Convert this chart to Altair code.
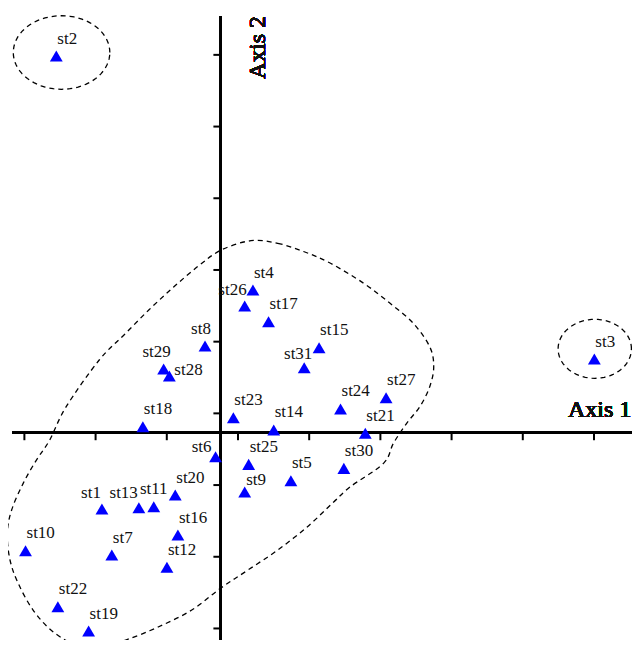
import altair as alt
import numpy as np
import pandas as pd

# ---- data (ordination scores, tick spacing = 1 unit) ----
stations = ["st1", "st2", "st3", "st4", "st5", "st6", "st7", "st8", "st9", "st10",
            "st11", "st12", "st13", "st14", "st15", "st16", "st17", "st18", "st19", "st20",
            "st21", "st22", "st23", "st24", "st25", "st26", "st27", "st28", "st29", "st30", "st31"]
axis1 = [-1.671, -2.312, 5.245, 0.450, 0.983, -0.075, -1.532, -0.223, 0.334, -2.744,
         -0.943, -0.758, -1.152, 0.742, 1.379, -0.604, 0.669, -1.096, -1.858, -0.641,
         2.028, -2.290, 0.175, 1.680, 0.390, 0.334, 2.320, -0.724, -0.804, 1.727, 1.170]
axis2 = [-1.064, 5.254, 1.028, 1.990, -0.669, -0.335, -1.706, 1.209, -0.827, -1.646,
         -1.032, -1.877, -1.046, 0.038, 1.185, -1.427, 1.548, 0.084, -2.766, -0.869,
         -0.008, -2.427, 0.209, 0.331, -0.441, 1.767, 0.488, 0.791, 0.888, -0.497, 0.907]

x_ticks = [-2.76, -1.76, -0.76, 0.24, 1.24, 2.24, 3.24, 4.24, 5.24]
y_ticks = [-2.73, -1.73, -0.73, 0.27, 1.27, 2.27, 3.27, 4.27, 5.27]

# big group outline (control points)
blob_x = [0.422, 0.798, 1.170, 1.540, 2.006, 2.376, 2.702, 2.933, 2.989, 2.933,
          2.794, 2.609, 2.423, 2.284, 1.819, 1.588, 1.216, 0.798, 0.380, 0.000,
          -0.409, -0.873, -1.337, -1.709, -1.987, -2.359, -2.638, -2.847, -2.962, -3.000,
          -2.939, -2.777, -2.591, -2.405, -2.173, -1.709, -1.361, -1.013, -0.664, -0.316, 0.004]
blob_y = [2.678, 2.642, 2.524, 2.363, 2.084, 1.805, 1.526, 1.199, 0.921, 0.642,
          0.363, 0.131, -0.148, -0.427, -0.753, -0.962, -1.311, -1.636, -1.915, -2.166,
          -2.473, -2.706, -2.891, -2.985, -2.985, -2.775, -2.473, -2.100, -1.775, -1.403,
          -1.078, -0.706, -0.381, -0.102, 0.363, 1.014, 1.363, 1.711, 2.032, 2.325, 2.548]

# small ellipses: centre x, centre y, radius x, radius y
ellipse_cx = [-2.238, 5.251]
ellipse_cy = [5.303, 1.170]
ellipse_rx = [0.678, 0.515]
ellipse_ry = [0.513, 0.411]

PLOT_W = 620
PLOT_H = 624
X_LEFT = -2.934
X_DOM = [X_LEFT, X_LEFT + PLOT_W / 71.2]
Y_TOP = 5.812
Y_DOM = [Y_TOP - PLOT_H / 71.7, Y_TOP]
AXIS_Y_MIN = -2.933

# ---- tables ----
df = pd.DataFrame({"station": stations, "axis1": axis1, "axis2": axis2})

rows = []
for i, (bx, by) in enumerate(zip(blob_x, blob_y)):
    rows.append({"shape": "blob", "order": i, "x": bx, "y": by})
blob_df = pd.DataFrame(rows)

erows = []
t = np.linspace(0, 2 * np.pi, 73)[:-1]
for k in range(len(ellipse_cx)):
    for i, a in enumerate(t):
        erows.append({"shape": f"e{k}", "order": i,
                      "x": ellipse_cx[k] + ellipse_rx[k] * np.cos(a),
                      "y": ellipse_cy[k] + ellipse_ry[k] * np.sin(a)})
ell_df = pd.DataFrame(erows)

xt_df = pd.DataFrame({"v": x_ticks})
yt_df = pd.DataFrame({"v": y_ticks})

xs = alt.Scale(domain=X_DOM, nice=False, zero=False)
ys = alt.Scale(domain=Y_DOM, nice=False, zero=False)

FONT = "Liberation Serif"

# axes lines
xaxis = alt.Chart(df).mark_rule(color="black", strokeWidth=2).encode(
    x=alt.XDatum(X_DOM[0], type="quantitative", scale=xs, axis=None),
    x2=alt.X2Datum(X_DOM[1]),
    y=alt.YDatum(0, type="quantitative", scale=ys, axis=None),
)
yaxis = alt.Chart(df).mark_rule(color="black", strokeWidth=2).encode(
    y=alt.YDatum(AXIS_Y_MIN, type="quantitative", scale=ys, axis=None),
    y2=alt.Y2Datum(Y_DOM[1]),
    x=alt.XDatum(0, type="quantitative", scale=xs, axis=None),
)
xticks = alt.Chart(xt_df).mark_tick(orient="vertical", size=7, thickness=2,
                                    yOffset=4, color="black", opacity=1).encode(
    x=alt.X("v:Q", scale=xs, axis=None),
    y=alt.YDatum(0, type="quantitative", scale=ys, axis=None),
)
yticks = alt.Chart(yt_df).mark_tick(orient="horizontal", size=7, thickness=2,
                                    xOffset=-4, color="black", opacity=1).encode(
    y=alt.Y("v:Q", scale=ys, axis=None),
    x=alt.XDatum(0, type="quantitative", scale=xs, axis=None),
)

blob = alt.Chart(blob_df).mark_line(color="black", strokeWidth=1.3, strokeDash=[5, 4],
                                    interpolate="cardinal-closed").encode(
    x=alt.X("x:Q", scale=xs, axis=None),
    y=alt.Y("y:Q", scale=ys, axis=None),
    order="order:Q",
    detail="shape:N",
)
ells = alt.Chart(ell_df).mark_line(color="black", strokeWidth=1.3, strokeDash=[5, 4],
                                   interpolate="linear-closed").encode(
    x=alt.X("x:Q", scale=xs, axis=None),
    y=alt.Y("y:Q", scale=ys, axis=None),
    order="order:Q",
    detail="shape:N",
)

pts = alt.Chart(df).mark_point(shape="triangle-up", filled=True, color="#0000FF",
                               size=165, opacity=1).encode(
    x=alt.X("axis1:Q", scale=xs, axis=None),
    y=alt.Y("axis2:Q", scale=ys, axis=None),
)

# label placement (style, not data)
overrides = {
    "st26": ("right", 2, -11),
    "st8": ("center", -4, -12),
    "st29": ("center", -7, -12),
    "st28": ("left", 5, -1),
    "st31": ("center", -6, -8.5),
    "st6": ("right", -4, -5),
    "st1": ("right", -1, -11),
    "st13": ("right", -1, -10),
    "st11": ("center", 0, -13),
    "st9": ("left", 1.5, -7),
}

def label_layer(names, align, dx, dy, exclude=False):
    lst = "[" + ",".join(f"'{n}'" for n in names) + "]"
    expr = f"indexof({lst}, datum.station) {'<' if exclude else '>='} 0"
    return alt.Chart(df).transform_filter(expr).mark_text(
        align=align, baseline="alphabetic", dx=dx, dy=dy,
        font=FONT, fontSize=17, color="#111111").encode(
        x=alt.X("axis1:Q", scale=xs, axis=None),
        y=alt.Y("axis2:Q", scale=ys, axis=None),
        text="station:N",
    )

labels = [label_layer(list(overrides.keys()), "left", 1, -12.5, exclude=True)]
for name, (al, dx, dy) in overrides.items():
    labels.append(label_layer([name], al, dx, dy))

title1 = alt.Chart(df).mark_text(align="right", baseline="alphabetic", font=FONT,
                                 fontSize=24, fontWeight="normal", color="#111111",
                                 text="Axis 1").encode(
    x=alt.XDatum(5.765, type="quantitative", scale=xs, axis=None),
    y=alt.YDatum(0.22, type="quantitative", scale=ys, axis=None),
)
title2 = alt.Chart(df).mark_text(align="center", baseline="alphabetic", angle=270,
                                 font=FONT, fontSize=24, fontWeight="normal",
                                 color="#111111", text="Axis 2").encode(
    x=alt.XDatum(0.62, type="quantitative", scale=xs, axis=None),
    y=alt.YDatum(5.37, type="quantitative", scale=ys, axis=None),
)

chart = alt.layer(blob, ells, xaxis, yaxis, xticks, yticks, pts, *labels, title1, title2).properties(
    width=PLOT_W, height=PLOT_H,
    autosize=alt.AutoSizeParams(type="none"),
    padding={"left": 4, "top": 8, "right": 0, "bottom": 0},
).configure_view(stroke=None)

chart.save("out.html", embed_options={"renderer": "svg", "actions": False})
